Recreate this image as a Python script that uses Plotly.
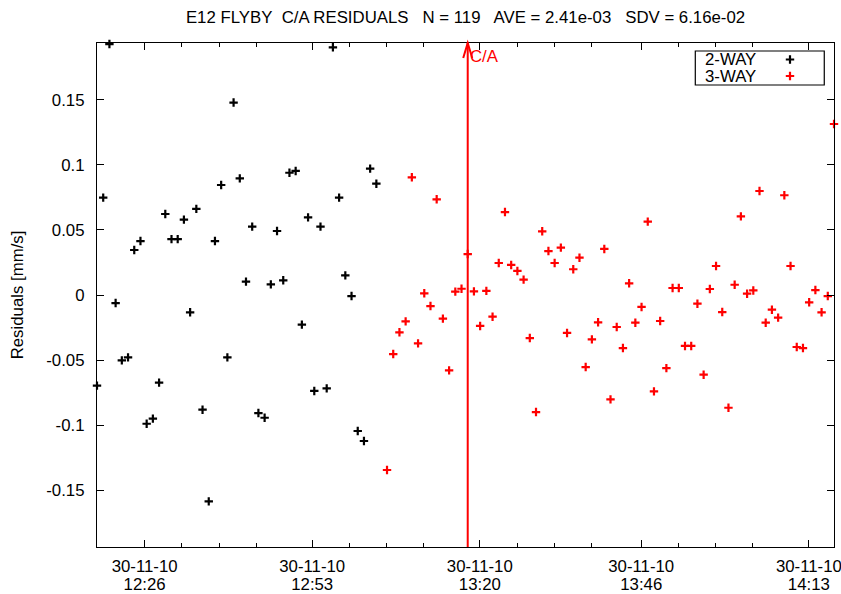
import pandas as pd
import plotly.graph_objects as go

# ---- sampling times (one residual per minute for each link type) ----
TWO_WAY_START = "2010-11-30 12:18:20"
THREE_WAY_START = "2010-11-30 13:05:03"
SAMPLE_INTERVAL = "60s"
CA_TIME = "2010-11-30 13:18:03"

# ---- Doppler residuals [mm/s] ----
two_way = [
    -0.0697, 0.0749, 0.1930, -0.0062, -0.0503, -0.0480, 0.0346, 0.0415,
    -0.0990, -0.0951, -0.0674, 0.0623, 0.0430, 0.0430, 0.0580, -0.0133,
    0.0662, -0.0882, -0.1587, 0.0415, 0.0846, -0.0480, 0.1480, 0.0897,
    0.0103, 0.0526, -0.0908, -0.0944, 0.0082, 0.0492, 0.0113, 0.0940,
    0.0954, -0.0228, 0.0597, -0.0738, 0.0526, -0.0718, 0.1905, 0.0749,
    0.0151, -0.0008, -0.1046, -0.1123, 0.0972, 0.0856,
]
three_way = [
    -0.1346, -0.0454, -0.0287, -0.0203, 0.0905, -0.0372, 0.0013, -0.0085,
    0.0736, -0.0182, -0.0580, 0.0026, 0.0048, 0.0315, 0.0028, -0.0238,
    0.0032, -0.0167, 0.0246, 0.0638, 0.0231, 0.0185, 0.0118, -0.0331,
    -0.0900, 0.0490, 0.0338, 0.0246, 0.0364, -0.0292, 0.0198, 0.0287,
    -0.0554, -0.0341, -0.0210, 0.0354, -0.0803, -0.0246, -0.0408, 0.0090,
    -0.0213, -0.0092, 0.0564, -0.0741, -0.0200, -0.0562, 0.0054, 0.0054,
    -0.0392, -0.0392, -0.0067, -0.0613, 0.0046, 0.0223, -0.0131, -0.0867,
    0.0079, 0.0605, 0.0010, 0.0035, 0.0800, -0.0213, -0.0113, -0.0174,
    0.0767, 0.0223, -0.0400, -0.0408, -0.0056, 0.0038, -0.0133, -0.0008,
    0.1315,
]

# ---- axis ticks ----
MAJOR_TICKS = ["2010-11-30 12:26", "2010-11-30 12:53", "2010-11-30 13:20",
               "2010-11-30 13:46", "2010-11-30 14:13"]
MINOR_OFFSETS_MIN = [6, 12, 18]
Y_TICKS = [-0.15, -0.1, -0.05, 0, 0.05, 0.1, 0.15]
Y_TICK_TEXT = ["-0.15", "-0.1", "-0.05", "0", "0.05", "0.1", "0.15"]
Y_LIMIT = 0.1938

TITLE = "E12 FLYBY  C/A RESIDUALS   N = 119   AVE = 2.41e-03   SDV = 6.16e-02"
SERIES_NAMES = ["2-WAY", "3-WAY"]
SERIES_COLORS = ["black", "#ff0000"]

FONT = "Liberation Sans, Arial, sans-serif"
FS = 16.8

t2 = pd.date_range(TWO_WAY_START, periods=len(two_way), freq=SAMPLE_INTERVAL)
t3 = pd.date_range(THREE_WAY_START, periods=len(three_way), freq=SAMPLE_INTERVAL)
x_range = [t2[0], t3[-1]]

minor_ticks = [pd.Timestamp(m) + pd.Timedelta(minutes=o)
               for m in MAJOR_TICKS for o in MINOR_OFFSETS_MIN]

fig = go.Figure()

for t, vals, name, col in zip([t2, t3], [two_way, three_way], SERIES_NAMES, SERIES_COLORS):
    fig.add_trace(go.Scatter(
        x=t, y=vals, mode="markers", name=name, showlegend=False,
        cliponaxis=False,
        marker=dict(symbol="cross-thin", size=6, line=dict(width=2.2, color=col)),
    ))

# legend keys drawn on an overlay axis spanning the plot area
LEG_BOX = (0.8118, 0.9868, 0.9167, 0.9841)
LEG_TEXT_X = 0.8223
LEG_KEY_X = 0.9403
LEG_ROWS_Y = [0.9673, 0.9345]
for name, col, ly in zip(SERIES_NAMES, SERIES_COLORS, LEG_ROWS_Y):
    fig.add_trace(go.Scatter(
        x=[LEG_KEY_X], y=[ly], xaxis="x2", yaxis="y2", mode="markers",
        showlegend=False, hoverinfo="skip", cliponaxis=False,
        marker=dict(symbol="cross-thin", size=6, line=dict(width=2.2, color=col)),
    ))
    fig.add_annotation(x=LEG_TEXT_X, y=ly, xref="paper", yref="paper",
                       text=name, showarrow=False, xanchor="left", yanchor="middle",
                       font=dict(family=FONT, size=FS, color="black"))

fig.add_shape(type="rect", xref="paper", yref="paper",
              x0=LEG_BOX[0], x1=LEG_BOX[1], y0=LEG_BOX[2], y1=LEG_BOX[3],
              line=dict(color="black", width=1.2), fillcolor="rgba(0,0,0,0)")

# closest-approach marker: vertical arrow with label
fig.add_shape(type="line", xref="x", yref="paper", x0=CA_TIME, x1=CA_TIME, y0=0, y1=1,
              line=dict(color="#ff0000", width=2))
fig.add_shape(type="path", xref="x", yref="paper",
              xsizemode="pixel", ysizemode="pixel", xanchor=CA_TIME, yanchor=1,
              path="M-4.5,-15 L0,0 L4.5,-15",
              line=dict(color="#ff0000", width=2))
fig.add_annotation(x=CA_TIME, y=1, xref="x", yref="paper", text="C/A",
                   showarrow=False, xanchor="left", yanchor="top", xshift=0, yshift=-2,
                   font=dict(family=FONT, size=FS, color="#ff0000"))

axis_common = dict(
    showline=True, linecolor="black", linewidth=1.3, mirror="ticks",
    ticks="inside", ticklen=7, tickwidth=1, tickcolor="black",
    showgrid=False, zeroline=False, automargin=False,
    tickfont=dict(family=FONT, size=FS, color="black"),
)

fig.update_layout(
    width=841, height=594,
    margin=dict(l=97, r=7, t=43, b=47),
    paper_bgcolor="white", plot_bgcolor="white",
    font=dict(family=FONT, size=FS, color="black"),
    title=dict(text=TITLE.replace("  ", "\u00a0\u00a0"), x=0.5, xref="paper",
               y=1 - 17 / 594, yref="container", yanchor="middle", xanchor="center",
               font=dict(family=FONT, size=FS, color="black")),
    # date line of the time labels
    xaxis=dict(
        type="date", range=x_range,
        tickmode="array", tickvals=MAJOR_TICKS, tickformat="%d-%m-%y",
        ticklabelstandoff=4, ticklabeloverflow="allow",
        minor=dict(tickmode="array", tickvals=minor_ticks, ticks="inside",
                   ticklen=4, tickwidth=1, tickcolor="black"),
        **axis_common,
    ),
    # clock line of the time labels, set just under the date line
    xaxis3=dict(
        type="date", range=x_range, overlaying="x", anchor="y", side="bottom",
        tickmode="array", tickvals=MAJOR_TICKS, tickformat="%H:%M",
        ticks="", showline=False, showgrid=False, zeroline=False, automargin=False,
        ticklabelstandoff=25, ticklabeloverflow="allow",
        tickfont=dict(family=FONT, size=FS, color="black"),
    ),
    yaxis=dict(
        range=[-Y_LIMIT, Y_LIMIT], tickmode="array", tickvals=Y_TICKS, ticktext=Y_TICK_TEXT,
        ticklabelstandoff=8,
        title=dict(text="Residuals [mm/s]", standoff=18,
                   font=dict(family=FONT, size=FS, color="black")),
        **axis_common,
    ),
    xaxis2=dict(overlaying="x", range=[0, 1], visible=False),
    yaxis2=dict(overlaying="y", range=[0, 1], visible=False),
)

# an invisible trace keeps the clock-label axis active
fig.add_trace(go.Scatter(x=x_range, y=[0, 0], xaxis="x3", yaxis="y", mode="lines",
                         line=dict(width=0), showlegend=False, hoverinfo="skip"))

fig.write_html("out.html")
